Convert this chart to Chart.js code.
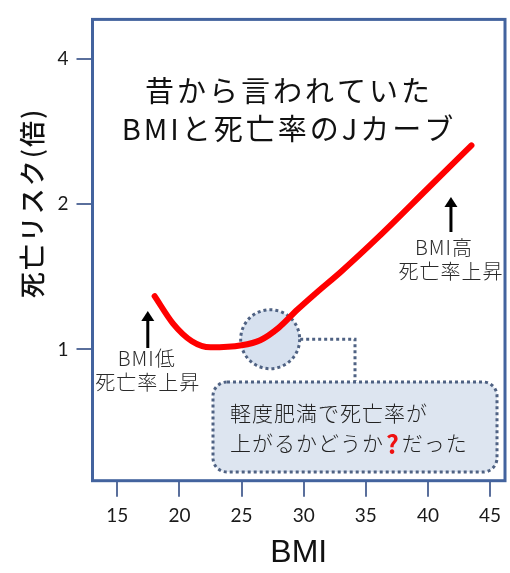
<!DOCTYPE html>
<html>
<head>
<meta charset="utf-8">
<script src="https://cdn.jsdelivr.net/npm/chart.js@4.4.1/dist/chart.umd.min.js"></script>
<style>
  html, body { margin: 0; padding: 0; background: #ffffff; }
  #wrap { width: 510px; height: 573px; position: relative; }
</style>
</head>
<body>
<div id="wrap"><canvas id="c" width="510" height="573"></canvas></div>
<script>
// BMI vs. relative mortality risk (J-curve)
const bmi  = [18, 19.5, 21, 22.5, 25, 26.5, 28, 29.5, 31, 33, 36, 40, 43.5];
const risk = [1.29, 1.13, 1.04, 1.01, 1.02, 1.045, 1.11, 1.21, 1.31, 1.45, 1.71, 2.16, 2.65];
const xTicks = [15, 20, 25, 30, 35, 40, 45];
const yTicks = [1, 2, 4];

const headline = ['昔から言われていた', 'BMIと死亡率のJカーブ'];
const lowNote  = ['BMI低', '死亡率上昇'];
const highNote = ['BMI高', '死亡率上昇'];
const boxLine1 = '軽度肥満で死亡率が';
const boxLine2 = ['上がるかどうか', '?', 'だった'];
const yTitle = '死亡リスク(倍)';
const xTitle = 'BMI';

const FRAME = '#43639e';
const TICK  = '#5a6f9c';
const DOT   = '#4f6283';
const JP    = '"Noto Sans CJK JP", "Noto Sans", sans-serif';

function spaced(ctx, px) { if ('letterSpacing' in ctx) ctx.letterSpacing = px + 'px'; }

function arrowUp(ctx, x, yTip, yTail) {
  ctx.save();
  ctx.strokeStyle = '#000'; ctx.fillStyle = '#000';
  ctx.lineWidth = 3;
  ctx.beginPath(); ctx.moveTo(x, yTail); ctx.lineTo(x, yTip + 6); ctx.stroke();
  ctx.beginPath();
  ctx.moveTo(x, yTip); ctx.lineTo(x - 6.5, yTip + 10); ctx.lineTo(x + 6.5, yTip + 10);
  ctx.closePath(); ctx.fill();
  ctx.restore();
}

function roundRect(ctx, x, y, w, h, r) {
  ctx.beginPath();
  ctx.moveTo(x + r, y);
  ctx.lineTo(x + w - r, y); ctx.arcTo(x + w, y, x + w, y + r, r);
  ctx.lineTo(x + w, y + h - r); ctx.arcTo(x + w, y + h, x + w - r, y + h, r);
  ctx.lineTo(x + r, y + h); ctx.arcTo(x, y + h, x, y + h - r, r);
  ctx.lineTo(x, y + r); ctx.arcTo(x, y, x + r, y, r);
  ctx.closePath();
}

const decor = {
  id: 'decor',
  beforeDatasetsDraw(chart) {
    const ctx = chart.ctx;
    const xs = chart.scales.x, ys = chart.scales.y;
    // highlighted region around mild obesity
    const cx = xs.getPixelForValue(27.3), cy = ys.getPixelForValue(1.05);
    ctx.save();
    ctx.setLineDash([3, 3]);
    ctx.lineWidth = 3;
    ctx.strokeStyle = DOT;
    ctx.fillStyle = '#d7e1ef';
    ctx.beginPath(); ctx.arc(cx, cy, 29.5, 0, Math.PI * 2); ctx.fill(); ctx.stroke();
    // connector to the callout
    ctx.beginPath();
    ctx.moveTo(cx + 30, cy); ctx.lineTo(355, cy); ctx.lineTo(355, 381);
    ctx.stroke();
    // callout box
    roundRect(ctx, 213, 382, 284, 90, 14);
    ctx.fillStyle = '#dde5f0'; ctx.fill(); ctx.stroke();
    ctx.setLineDash([]);
    ctx.fillStyle = '#222';
    ctx.textBaseline = 'middle'; ctx.textAlign = 'left';
    ctx.font = '300 21px ' + JP; spaced(ctx, 1);
    ctx.fillText(boxLine1, 230, 413);
    let x = 230;
    ctx.fillText(boxLine2[0], x, 443);
    x += ctx.measureText(boxLine2[0]).width;
    ctx.font = 'bold 25px ' + JP; spaced(ctx, 0);
    ctx.fillStyle = '#ee1111';
    ctx.fillText(boxLine2[1], x + 2, 444);
    x += ctx.measureText(boxLine2[1]).width + 5;
    ctx.font = '300 21px ' + JP; spaced(ctx, 1);
    ctx.fillStyle = '#222';
    ctx.fillText(boxLine2[2], x, 443);
    ctx.restore();
  },
  afterDraw(chart) {
    const ctx = chart.ctx, a = chart.chartArea;
    const xs = chart.scales.x;
    ctx.save();
    // plot frame
    ctx.strokeStyle = FRAME; ctx.lineWidth = 3;
    ctx.strokeRect(a.left, a.top, a.right - a.left, a.bottom - a.top);

    // headline
    ctx.fillStyle = '#111';
    ctx.textAlign = 'center'; ctx.textBaseline = 'middle';
    ctx.font = '400 29px ' + JP; spaced(ctx, 3);
    ctx.fillText(headline[0], 289, 91);
    ctx.fillText(headline[1], 289, 129);

    // side notes with arrows
    ctx.fillStyle = '#2a2a2a';
    ctx.font = '300 20px ' + JP; spaced(ctx, 1);
    const lx = xs.getPixelForValue(17.45);
    arrowUp(ctx, lx, 311, 348);
    ctx.fillText(lowNote[0], lx - 1, 358);
    ctx.fillText(lowNote[1], lx, 382);
    const hx = xs.getPixelForValue(41.85);
    arrowUp(ctx, hx, 197, 232);
    ctx.fillText(highNote[0], hx - 7, 247);
    ctx.fillText(highNote[1], hx, 271);

    // vertical axis title
    ctx.translate(32, 203);
    ctx.rotate(-Math.PI / 2);
    ctx.fillStyle = '#111';
    ctx.font = '500 26px ' + JP; spaced(ctx, 2);
    ctx.fillText(yTitle, 0, 0);
    ctx.restore();
  }
};

new Chart(document.getElementById('c').getContext('2d'), {
  type: 'line',
  data: {
    datasets: [{
      data: bmi.map((x, i) => ({ x: x, y: risk[i] })),
      borderColor: '#ff0000',
      borderWidth: 6,
      pointRadius: 0,
      fill: false,
      cubicInterpolationMode: 'monotone',
      borderCapStyle: 'round',
      borderJoinStyle: 'round'
    }]
  },
  options: {
    responsive: false,
    animation: false,
    devicePixelRatio: 1,
    layout: { padding: { left: 0, right: 5, top: 10, bottom: 0 } },
    plugins: { legend: { display: false }, tooltip: { enabled: false } },
    scales: {
      x: {
        type: 'linear', min: 13, max: 46.2,
        afterBuildTicks: s => { s.ticks = xTicks.map(v => ({ value: v })); },
        afterFit: s => { s.height = 92.3; },
        border: { display: false },
        grid: { drawOnChartArea: false, color: TICK, lineWidth: 2, tickLength: 16 },
        ticks: { font: { family: 'Lato', size: 19 }, color: '#1a1a1a', padding: 8, maxRotation: 0, autoSkip: false,
                 callback: v => String(v) },
        title: { display: true, text: xTitle, font: { family: 'Liberation Sans', size: 32 }, color: '#111',
                 padding: { top: 0, bottom: 1 } }
      },
      y: {
        type: 'logarithmic', min: 0.534, max: 4.84,
        afterBuildTicks: s => { s.ticks = yTicks.map(v => ({ value: v })); },
        afterFit: s => { s.width = 92.5; },
        border: { display: false },
        grid: { drawOnChartArea: false, color: TICK, lineWidth: 2, tickLength: 16 },
        ticks: { font: { family: 'Lato', size: 19 }, color: '#1a1a1a', padding: 8, autoSkip: false,
                 callback: v => String(v) }
      }
    }
  },
  plugins: [decor]
});
</script>
</body>
</html>
